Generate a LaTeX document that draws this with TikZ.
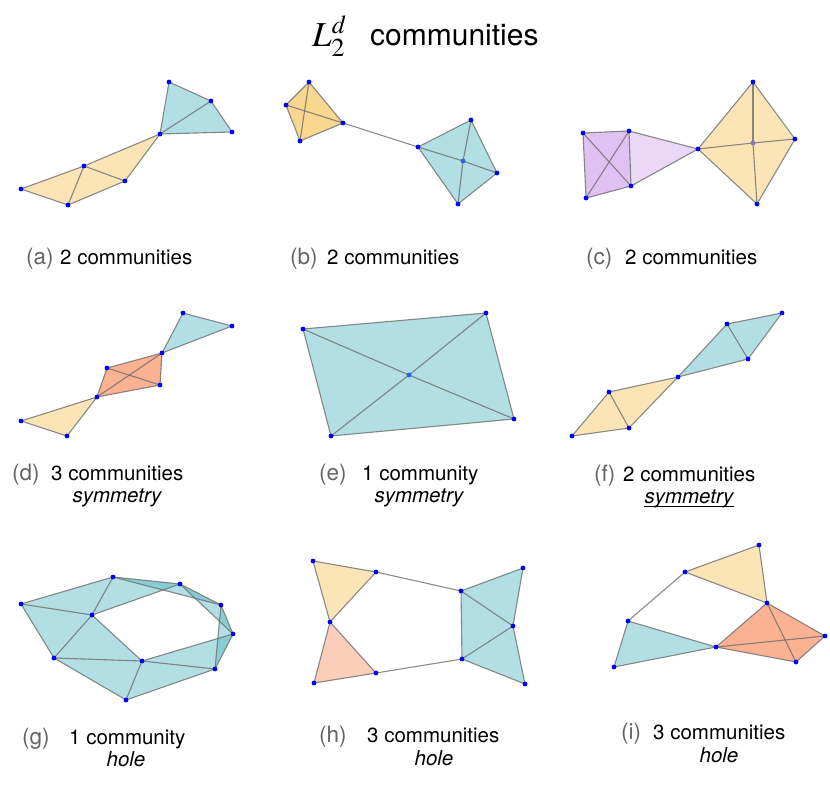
\documentclass[tikz,border=0pt]{standalone}
\usepackage{mathptmx}
\usepackage[no-math]{fontspec}
\setmainfont{TeX Gyre Heros}
\definecolor{tealb}{RGB}{82,184,193}
\definecolor{yelb}{RGB}{246,197,95}
\definecolor{orab}{RGB}{248,144,99}
\definecolor{purb}{RGB}{211,166,235}
\definecolor{edgec}{RGB}{110,110,110}
\definecolor{vertc}{RGB}{0,0,255}
\definecolor{prefc}{RGB}{100,100,100}
\tikzset{
  tealf/.style={fill=tealb, fill opacity=0.45},
  yelf/.style={fill=yelb, fill opacity=0.45},
  oraf/.style={fill=orab, fill opacity=0.45},
  purf/.style={fill=purb, fill opacity=0.45},
  edge/.style={draw=edgec, draw opacity=0.8, line width=1.1pt},
  vert/.style={fill=vertc},
  lbl/.style={anchor=base west, inner sep=0pt, font=\fontsize{20.5}{24}\selectfont},
  pref/.style={anchor=base west, inner sep=0pt, font=\fontsize{22.5}{26}\selectfont, text=prefc},
  emph/.style={anchor=base, inner sep=0pt, font=\fontsize{20.5}{24}\selectfont\itshape},
}
\newcommand\ftri[4]{\fill[#1] (#2) -- (#3) -- (#4) -- cycle;}
\newcommand\edgeset[1]{\foreach \p/\q in {#1} {\draw[edge] (\p) -- (\q);}}
\newcommand\vertset[1]{\foreach \p in {#1} {\fill[vert] (\p) circle (2.4pt);}}
\begin{document}
\begin{tikzpicture}[x=1pt,y=-1pt]
\useasboundingbox (0,0) rectangle (830,787);
% title
\node[anchor=base west, inner sep=0pt, font=\fontsize{35}{38}\selectfont] (tl) at (312,46) {$L_2^d$};
\node[anchor=base west, inner sep=0pt, font=\fontsize{30}{34}\selectfont] (tt) at (370,45) {communities};

% ---------- (a)
\coordinate (a1) at (169,82); \coordinate (a2) at (211,101); \coordinate (a3) at (232,132);
\coordinate (a4) at (160,134); \coordinate (a5) at (84,166); \coordinate (a6) at (125,181);
\coordinate (a7) at (21,189); \coordinate (a8) at (68,205);
\ftri{tealf}{a1}{a2}{a4}\ftri{tealf}{a2}{a3}{a4}
\ftri{yelf}{a4}{a5}{a6}\ftri{yelf}{a5}{a6}{a8}\ftri{yelf}{a5}{a7}{a8}
\edgeset{a1/a2,a2/a3,a3/a4,a4/a1,a2/a4,a4/a5,a4/a6,a5/a6,a5/a7,a7/a8,a8/a6,a5/a8}
\vertset{a1,a2,a3,a4,a5,a6,a7,a8}
\node[pref] (pa) at (26,264) {(a)};
\node[lbl] (la) at (60,264) {2 communities};

% ---------- (b)
\coordinate (b1) at (309,82); \coordinate (b2) at (286,105); \coordinate (b3) at (343,123);
\coordinate (b4) at (300,141); \coordinate (b5) at (418,147); \coordinate (b6) at (471,120);
\coordinate (b7) at (463,161); \coordinate (b8) at (497,173); \coordinate (b9) at (458,204);
\ftri{yelf}{b1}{b2}{b3}\ftri{yelf}{b1}{b2}{b4}\ftri{yelf}{b1}{b3}{b4}\ftri{yelf}{b2}{b3}{b4}
\ftri{tealf}{b5}{b6}{b7}\ftri{tealf}{b6}{b8}{b7}\ftri{tealf}{b8}{b9}{b7}\ftri{tealf}{b9}{b5}{b7}
\edgeset{b1/b3,b3/b4,b4/b2,b2/b1,b1/b4,b2/b3,b3/b5,b5/b6,b6/b8,b8/b9,b9/b5,b5/b7,b7/b8,b6/b7,b7/b9}
\vertset{b1,b2,b3,b4,b5,b6,b8,b9}
\fill[fill={rgb,255:red,45;green,95;blue,235}] (b7) circle (2.4pt);
\node[pref] (pb) at (290,264) {(b)};
\node[lbl] (lb) at (327,264) {2 communities};

% ---------- (c)
\coordinate (c1) at (583,133); \coordinate (c2) at (629,131); \coordinate (c3) at (631,186);
\coordinate (c4) at (586,198); \coordinate (c5) at (698,149); \coordinate (c6) at (753,82);
\coordinate (c7) at (795,139); \coordinate (c8) at (757,204); \coordinate (c9) at (753,143);
\ftri{purf}{c1}{c2}{c3}\ftri{purf}{c1}{c2}{c4}\ftri{purf}{c1}{c3}{c4}\ftri{purf}{c2}{c3}{c4}
\ftri{purf}{c2}{c3}{c5}
\ftri{yelf}{c5}{c6}{c9}\ftri{yelf}{c6}{c7}{c9}\ftri{yelf}{c7}{c8}{c9}\ftri{yelf}{c8}{c5}{c9}
\edgeset{c1/c2,c2/c3,c3/c4,c4/c1,c1/c3,c2/c4,c2/c5,c3/c5,c5/c6,c6/c7,c7/c8,c8/c5,c5/c9,c9/c7,c6/c9,c9/c8}
\vertset{c1,c2,c3,c4,c5,c6,c7,c8}
\fill[fill={rgb,255:red,135;green,115;blue,205}] (c9) circle (2.4pt);
\node[pref] (pc) at (586,264) {(c)};
\node[lbl] (lc) at (625,264) {2 communities};

% ---------- (d)
\coordinate (d1) at (183,313); \coordinate (d2) at (232,326); \coordinate (d3) at (162,353);
\coordinate (d4) at (107,368); \coordinate (d5) at (160,385); \coordinate (d6) at (97,397);
\coordinate (d7) at (21,421); \coordinate (d8) at (67,436);
\ftri{tealf}{d1}{d2}{d3}
\ftri{oraf}{d3}{d4}{d5}\ftri{oraf}{d3}{d4}{d6}\ftri{oraf}{d3}{d5}{d6}\ftri{oraf}{d4}{d5}{d6}
\ftri{yelf}{d6}{d7}{d8}
\edgeset{d1/d2,d2/d3,d3/d1,d3/d4,d4/d6,d6/d5,d5/d3,d3/d6,d4/d5,d6/d7,d7/d8,d8/d6}
\vertset{d1,d2,d3,d4,d5,d6,d7,d8}
\node[pref] (pd) at (12,480) {(d)};
\node[lbl] (ld) at (51,480) {3 communities};
\node[emph] (sd) at (117,502) {symmetry};

% ---------- (e)
\coordinate (e1) at (303,329); \coordinate (e2) at (486,313); \coordinate (e3) at (514,419);
\coordinate (e4) at (331,436); \coordinate (e5) at (409,375);
\ftri{tealf}{e1}{e2}{e5}\ftri{tealf}{e2}{e3}{e5}\ftri{tealf}{e3}{e4}{e5}\ftri{tealf}{e4}{e1}{e5}
\edgeset{e1/e2,e2/e3,e3/e4,e4/e1,e1/e5,e5/e3,e2/e5,e5/e4}
\vertset{e1,e2,e3,e4}
\fill[fill={rgb,255:red,40;green,95;blue,235}] (e5) circle (2.4pt);
\node[pref] (pe) at (319,480) {(e)};
\node[lbl] (le) at (362,480) {1 community};
\node[emph] (se) at (419,502) {symmetry};

% ---------- (f)
\coordinate (f1) at (782,313); \coordinate (f2) at (727,324); \coordinate (f3) at (748,359);
\coordinate (f4) at (678,377); \coordinate (f5) at (609,392); \coordinate (f6) at (629,428);
\coordinate (f7) at (572,436);
\ftri{tealf}{f1}{f2}{f3}\ftri{tealf}{f2}{f3}{f4}
\ftri{yelf}{f4}{f5}{f6}\ftri{yelf}{f5}{f6}{f7}
\edgeset{f1/f2,f1/f3,f2/f3,f2/f4,f3/f4,f4/f5,f4/f6,f5/f6,f5/f7,f6/f7}
\vertset{f1,f2,f3,f4,f5,f6,f7}
\node[pref] (pf) at (594,481) {(f)};
\node[lbl] (lf) at (623,481) {2 communities};
\node[emph] (sf) at (689,503) {symmetry};
\draw[line width=0.8pt] ([yshift=-3.5pt]sf.base west) -- ([yshift=-3.5pt]sf.base east);

% ---------- (g)
\coordinate (g1) at (113,577); \coordinate (g2) at (180,584); \coordinate (g3) at (221,605);
\coordinate (g4) at (233,634); \coordinate (g5) at (215,669); \coordinate (g6) at (126,700);
\coordinate (g7) at (54,658); \coordinate (g8) at (21,604); \coordinate (g9) at (92,615);
\coordinate (g10) at (142,661);
\ftri{tealf}{g8}{g1}{g9}\ftri{tealf}{g8}{g9}{g7}\ftri{tealf}{g7}{g9}{g10}\ftri{tealf}{g7}{g10}{g6}
\ftri{tealf}{g6}{g10}{g5}\ftri{tealf}{g10}{g4}{g5}\ftri{tealf}{g3}{g4}{g5}\ftri{tealf}{g2}{g3}{g4}
\ftri{tealf}{g1}{g2}{g3}\ftri{tealf}{g1}{g9}{g2}
\edgeset{g8/g1,g1/g9,g8/g9,g8/g7,g9/g7,g9/g10,g7/g10,g7/g6,g6/g10,g6/g5,g10/g5,g10/g4,g4/g5,g3/g5,g3/g4,g2/g4,g2/g3,g1/g3,g1/g2,g9/g2}
\vertset{g1,g2,g3,g4,g5,g6,g7,g8,g9,g10}
\node[pref] (pg) at (22,744) {(g)};
\node[lbl] (lg) at (69,744) {1 community};
\node[emph] (sg) at (126,766) {hole};

% ---------- (h)
\coordinate (h1) at (313,561); \coordinate (h2) at (376,572); \coordinate (h3) at (330,622);
\coordinate (h4) at (314,683); \coordinate (h5) at (376,673); \coordinate (h6) at (461,591);
\coordinate (h7) at (523,568); \coordinate (h8) at (513,626); \coordinate (h9) at (462,659);
\coordinate (h10) at (525,684);
\ftri{yelf}{h1}{h2}{h3}
\ftri{oraf}{h3}{h4}{h5}
\ftri{tealf}{h6}{h7}{h8}\ftri{tealf}{h6}{h8}{h9}\ftri{tealf}{h9}{h8}{h10}
\edgeset{h1/h2,h2/h3,h3/h1,h3/h4,h4/h5,h5/h3,h2/h6,h5/h9,h6/h7,h7/h8,h6/h8,h6/h9,h8/h9,h8/h10,h9/h10}
\vertset{h1,h2,h3,h4,h5,h6,h7,h8,h9,h10}
\node[pref] (ph) at (319,742) {(h)};
\node[lbl] (lh) at (367,742) {3 communities};
\node[emph] (sh) at (434,765) {hole};

% ---------- (i)
\coordinate (i1) at (759,545); \coordinate (i2) at (685,572); \coordinate (i3) at (767,603);
\coordinate (i4) at (628,621); \coordinate (i5) at (716,647); \coordinate (i6) at (825,636);
\coordinate (i7) at (796,662); \coordinate (i8) at (614,667);
\ftri{yelf}{i1}{i2}{i3}
\ftri{tealf}{i4}{i5}{i8}
\ftri{oraf}{i3}{i6}{i7}\ftri{oraf}{i3}{i6}{i5}\ftri{oraf}{i3}{i7}{i5}\ftri{oraf}{i6}{i7}{i5}
\edgeset{i1/i2,i2/i3,i3/i1,i2/i4,i4/i5,i5/i8,i8/i4,i5/i3,i3/i6,i6/i7,i7/i5,i5/i6,i3/i7}
\vertset{i1,i2,i3,i4,i5,i6,i7,i8}
\node[pref] (pi) at (621,739) {(i)};
\node[lbl] (li) at (653,739) {3 communities};
\node[emph] (si) at (719,762) {hole};
\end{tikzpicture}
\end{document}
